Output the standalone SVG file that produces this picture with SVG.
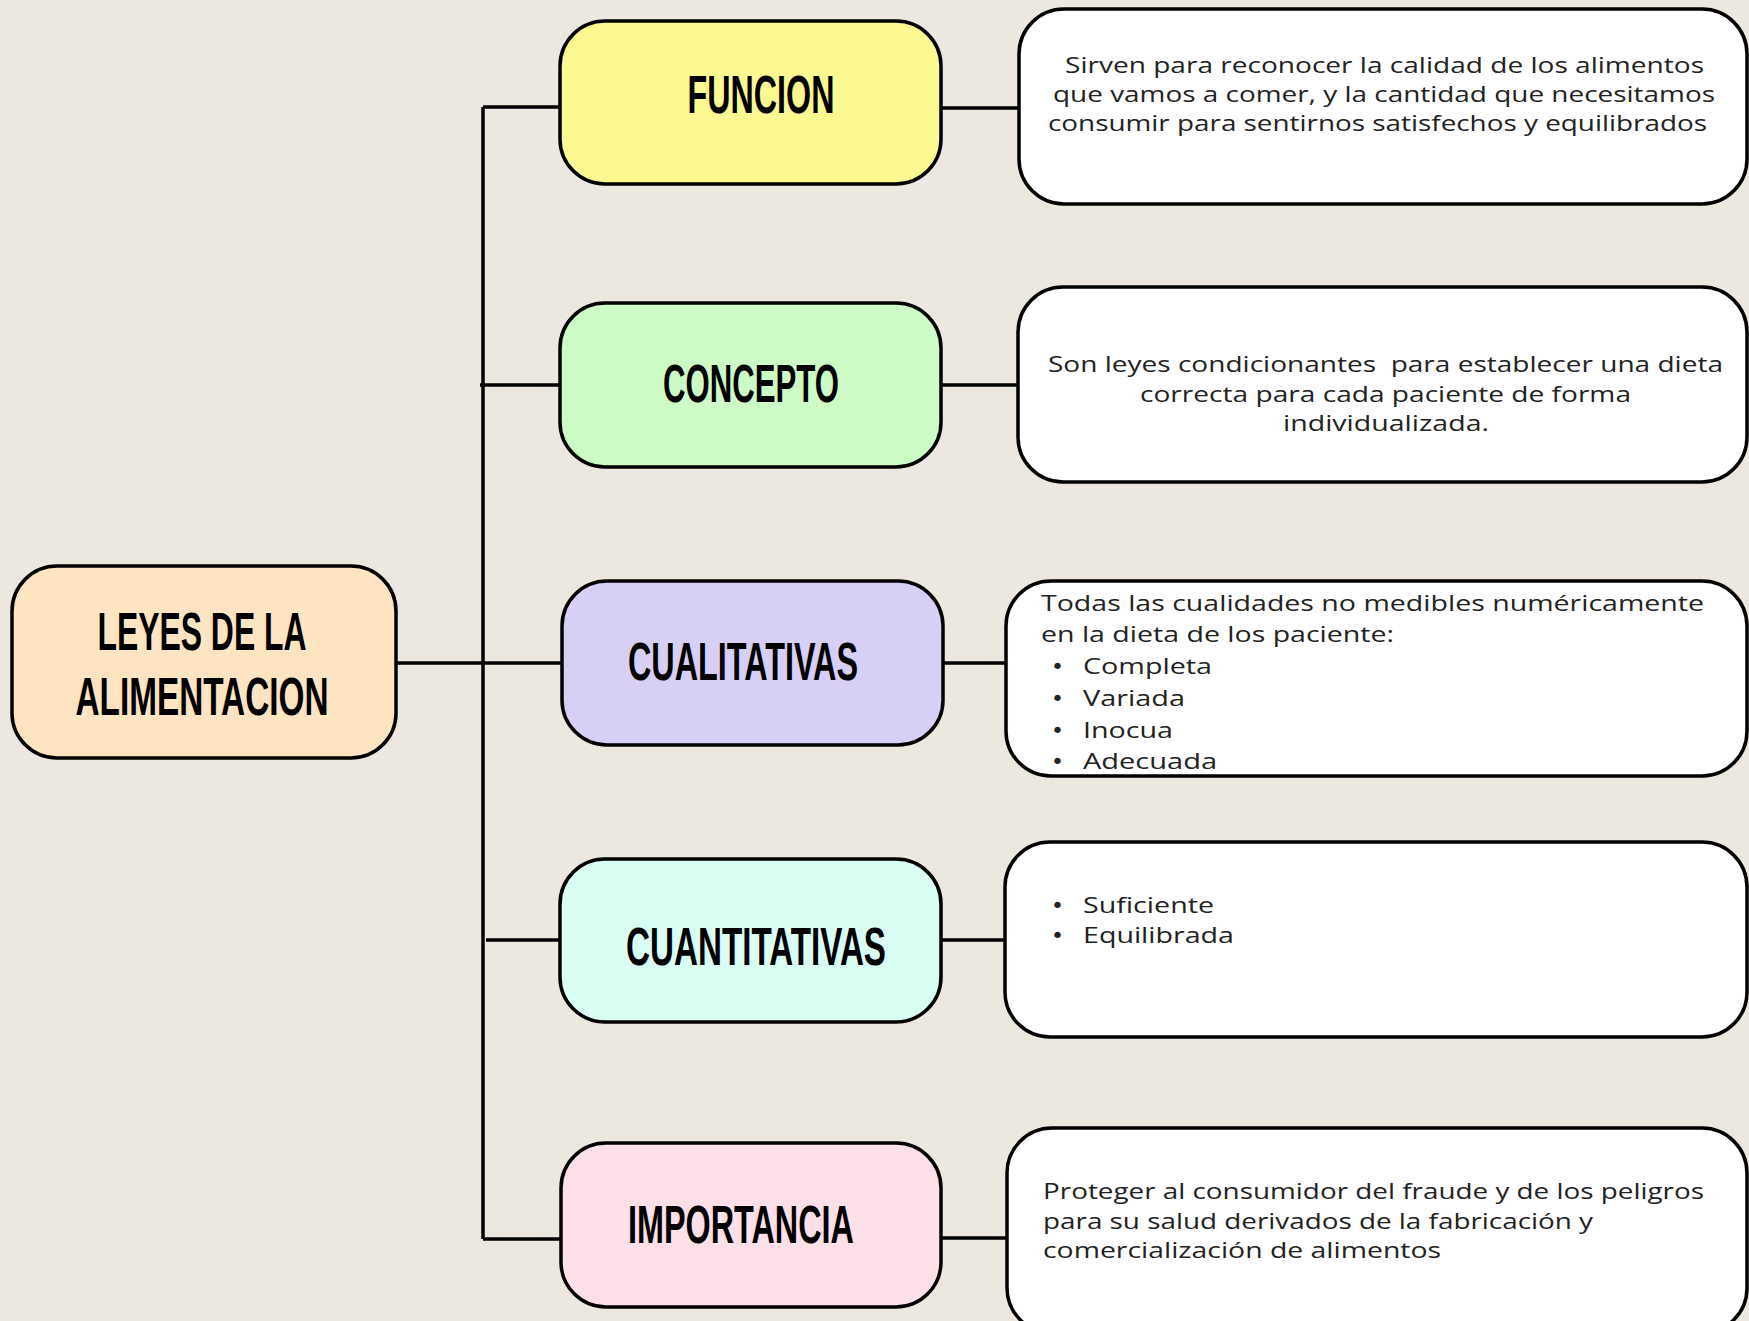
<svg xmlns="http://www.w3.org/2000/svg" width="1749" height="1321" viewBox="0 0 1749 1321">
<style>
.box{stroke:#000;stroke-width:3.5}
.desc{fill:#fff;stroke:#000;stroke-width:3.5}
.lbl{font-family:"Liberation Sans Narrow","Liberation Sans",sans-serif;font-weight:bold;font-size:53px;fill:#000;text-anchor:middle}
.txt{font-family:"Open Sans","Noto Sans",sans-serif;font-size:21.5px;font-weight:500;fill:#222}
.bul{font-family:"DejaVu Sans",sans-serif;font-size:22px;fill:#222}
.conn{stroke:#000;stroke-width:3.5;fill:none}
</style>
<rect width="1749" height="1321" fill="#ECE7DF"/>
<g id="connectors">
<path class="conn" d="M483 107 V1239"/>
<path class="conn" d="M483 107 H561"/>
<path class="conn" d="M480 385 H561"/>
<path class="conn" d="M395 663 H562"/>
<path class="conn" d="M486 940 H561"/>
<path class="conn" d="M483 1239 H562"/>
<path class="conn" d="M941 108 H1019"/>
<path class="conn" d="M941 385 H1018"/>
<path class="conn" d="M943 663 H1006"/>
<path class="conn" d="M941 940 H1006"/>
<path class="conn" d="M941 1238 H1007"/>
</g>
<g id="root">
<rect class="box" x="12" y="566" width="384" height="192" rx="45" fill="#FFE4C2"/>
<text class="lbl" x="202" y="650" textLength="209" lengthAdjust="spacingAndGlyphs">LEYES DE LA</text>
<text class="lbl" x="202" y="715" textLength="253" lengthAdjust="spacingAndGlyphs">ALIMENTACION</text>
</g>
<g id="funcion">
<rect class="box" x="560" y="21" width="381" height="163" rx="45" fill="#FBF98F"/>
<text class="lbl" x="761" y="113" textLength="147" lengthAdjust="spacingAndGlyphs">FUNCION</text>
</g>
<g id="concepto">
<rect class="box" x="560" y="303" width="381" height="164" rx="45" fill="#CCFBC6"/>
<text class="lbl" x="751" y="402" textLength="176" lengthAdjust="spacingAndGlyphs">CONCEPTO</text>
</g>
<g id="cualitativas">
<rect class="box" x="562" y="581" width="381" height="164" rx="45" fill="#D7CFF5"/>
<text class="lbl" x="743" y="680" textLength="230" lengthAdjust="spacingAndGlyphs">CUALITATIVAS</text>
</g>
<g id="cuantitativas">
<rect class="box" x="560" y="859" width="381" height="163" rx="45" fill="#D9FEF4"/>
<text class="lbl" x="756" y="965" textLength="260" lengthAdjust="spacingAndGlyphs">CUANTITATIVAS</text>
</g>
<g id="importancia">
<rect class="box" x="561" y="1143" width="380" height="164" rx="45" fill="#FFDFE8"/>
<text class="lbl" x="741" y="1243" textLength="226" lengthAdjust="spacingAndGlyphs">IMPORTANCIA</text>
</g>
<g id="desc-funcion">
<rect class="desc" x="1019" y="9" width="728" height="195" rx="45"/>
<text class="txt" x="1065" y="73" textLength="639" lengthAdjust="spacingAndGlyphs">Sirven para reconocer la calidad de los alimentos</text>
<text class="txt" x="1053" y="102" textLength="662" lengthAdjust="spacingAndGlyphs">que vamos a comer, y la cantidad que necesitamos</text>
<text class="txt" x="1048" y="131" textLength="659" lengthAdjust="spacingAndGlyphs">consumir para sentirnos satisfechos y equilibrados</text>
</g>
<g id="desc-concepto">
<rect class="desc" x="1018" y="287" width="729" height="195" rx="45"/>
<text class="txt" x="1048" y="372" xml:space="preserve" textLength="675" lengthAdjust="spacingAndGlyphs">Son leyes condicionantes  para establecer una dieta</text>
<text class="txt" x="1140" y="402" textLength="491" lengthAdjust="spacingAndGlyphs">correcta para cada paciente de forma</text>
<text class="txt" x="1283" y="431" textLength="206" lengthAdjust="spacingAndGlyphs">individualizada.</text>
</g>
<g id="desc-cualitativas">
<rect class="desc" x="1006" y="581" width="741" height="195" rx="45"/>
<text class="txt" x="1041" y="611" textLength="663" lengthAdjust="spacingAndGlyphs">Todas las cualidades no medibles numéricamente</text>
<text class="txt" x="1041" y="642" textLength="353" lengthAdjust="spacingAndGlyphs">en la dieta de los paciente:</text>
<text class="bul" x="1051" y="674">•</text><text class="txt" x="1083" y="674" textLength="129" lengthAdjust="spacingAndGlyphs">Completa</text>
<text class="bul" x="1051" y="706">•</text><text class="txt" x="1083" y="706" textLength="102" lengthAdjust="spacingAndGlyphs">Variada</text>
<text class="bul" x="1051" y="738">•</text><text class="txt" x="1083" y="738" textLength="90" lengthAdjust="spacingAndGlyphs">Inocua</text>
<text class="bul" x="1051" y="769">•</text><text class="txt" x="1083" y="769" textLength="134" lengthAdjust="spacingAndGlyphs">Adecuada</text>
</g>
<g id="desc-cuantitativas">
<rect class="desc" x="1005" y="842" width="742" height="195" rx="45"/>
<text class="bul" x="1051" y="913">•</text><text class="txt" x="1083" y="913" textLength="131" lengthAdjust="spacingAndGlyphs">Suficiente</text>
<text class="bul" x="1051" y="943">•</text><text class="txt" x="1083" y="943" textLength="151" lengthAdjust="spacingAndGlyphs">Equilibrada</text>
</g>
<g id="desc-importancia">
<rect class="desc" x="1007" y="1128" width="740" height="205" rx="45"/>
<text class="txt" x="1043" y="1199" textLength="661" lengthAdjust="spacingAndGlyphs">Proteger al consumidor del fraude y de los peligros</text>
<text class="txt" x="1043" y="1229" textLength="550" lengthAdjust="spacingAndGlyphs">para su salud derivados de la fabricación y</text>
<text class="txt" x="1043" y="1258" textLength="398" lengthAdjust="spacingAndGlyphs">comercialización de alimentos</text>
</g>
</svg>
